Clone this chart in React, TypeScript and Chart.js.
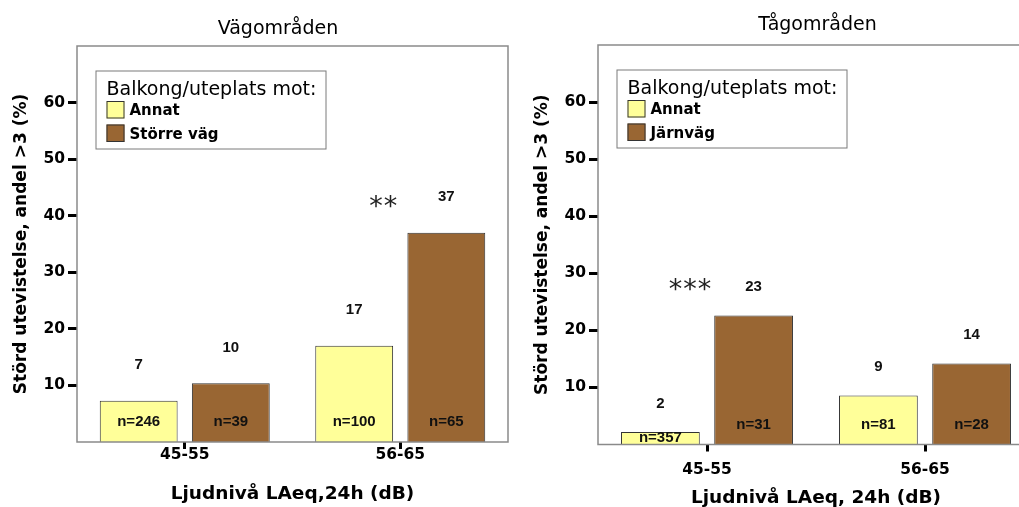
import React, { useEffect, useRef } from "react";
import { Chart, registerables } from "chart.js";

Chart.register(...registerables);

// ---------------- data ----------------
const categories = ["45-55", "56-65"];
const yTicks = [10, 20, 30, 40, 50, 60];
const yMax = 70;
const yTitle = "Störd utevistelse, andel >3 (%)";
const legendTitle = "Balkong/uteplats mot:";

const roadTitle = "Vägområden";
const roadXTitle = "Ljudnivå LAeq,24h (dB)";
const roadSeriesNames = ["Annat", "Större väg"];
const roadAnnat = [7.3, 17.0];
const roadStorreVag = [10.4, 37.0];
const roadAnnatN = [246, 100];
const roadStorreVagN = [39, 65];
const roadStars = ["", "**"];

const railTitle = "Tågområden";
const railXTitle = "Ljudnivå LAeq, 24h (dB)";
const railSeriesNames = ["Annat", "Järnväg"];
const railAnnat = [2.2, 8.6];
const railJarnvag = [22.6, 14.2];
const railAnnatN = [357, 81];
const railJarnvagN = [31, 28];
const railStars = ["***", ""];

// ---------------- styles ----------------
const FONT_AXIS = '"DejaVu Sans", Verdana, sans-serif';
const FONT_VAL = '"Liberation Sans", Arial, sans-serif';
const YELLOW = "#FFFF99";
const BROWN = "#996633";
const BAR_EDGE = "#333333";
const FRAME = "#8a8a8a";
const CANVAS_H = 507;

const roadLayout = {
  canvasLeft: 0, canvasW: 521, areaLeft: 77, areaRight: 508, areaTop: 46, areaBottom: 442,
  titleDx: -14.5, titleBase: 12.5, valueGap: 35.6, tickPad: -3, xTitlePad: 1.9,
};
const railLayout = {
  canvasLeft: 521, canvasW: 530, areaLeft: 77, areaRight: 513, areaTop: 45, areaBottom: 444.5,
  titleDx: 1.5, titleBase: 15, valueGap: 28.5, tickPad: 9, xTitlePad: -2.6,
};

type Panel = {
  title: string;
  xTitle: string;
  names: string[];
  series: number[][];
  counts: number[][];
  stars: string[];
  layout: typeof roadLayout;
};

const roadPanel: Panel = {
  title: roadTitle, xTitle: roadXTitle, names: roadSeriesNames,
  series: [roadAnnat, roadStorreVag], counts: [roadAnnatN, roadStorreVagN],
  stars: roadStars, layout: roadLayout,
};
const railPanel: Panel = {
  title: railTitle, xTitle: railXTitle, names: railSeriesNames,
  series: [railAnnat, railJarnvag], counts: [railAnnatN, railJarnvagN],
  stars: railStars, layout: railLayout,
};

const fills = [YELLOW, BROWN];

function makeChart(canvas: HTMLCanvasElement, p: Panel) {
  const L = p.layout;
  const overlay = {
    id: "overlay",
    afterDatasetsDraw(chart: any) {
      const ctx: CanvasRenderingContext2D = chart.ctx;
      const a = chart.chartArea;
      ctx.save();
      // frame
      ctx.strokeStyle = FRAME;
      ctx.lineWidth = 1.5;
      ctx.strokeRect(a.left, a.top, a.right - a.left, a.bottom - a.top);

      // value and n labels
      ctx.fillStyle = "#111";
      ctx.textAlign = "center";
      ctx.textBaseline = "middle";
      ctx.font = `bold 15px ${FONT_VAL}`;
      chart.data.datasets.forEach((ds: any, di: number) => {
        chart.getDatasetMeta(di).data.forEach((bar: any, i: number) => {
          const v = ds.data[i] as number;
          const pr = bar.getProps(["x", "y", "base"], true);
          ctx.fillText(String(Math.round(v)), pr.x, pr.y - L.valueGap);
          ctx.fillText(`n=${p.counts[di][i]}`, pr.x, Math.max(a.bottom - 20, (pr.y + pr.base) / 2));
        });
      });

      // significance stars
      ctx.font = `27px ${FONT_AXIS}`;
      ctx.textBaseline = "alphabetic";
      ctx.fillStyle = "#222";
      categories.forEach((_c, i) => {
        const s = p.stars[i];
        if (!s) return;
        const tops = chart.data.datasets.map((_d: any, di: number) => chart.getDatasetMeta(di).data[i].y);
        const top = Math.min(...tops);
        const cx = chart.scales.x.getPixelForValue(i) - 17;
        const cy = top - 33;
        const n = s.length;
        for (let k = 0; k < n; k++) {
          ctx.fillText(s[k], cx + (k - (n - 1) / 2) * 14.5, cy + 15.8);
        }
      });

      // legend
      const bx = a.left + 18.5, by = a.top + 24.5, bw = 230, bh = 78;
      ctx.fillStyle = "#fff";
      ctx.fillRect(bx, by, bw, bh);
      ctx.strokeStyle = "#7a7a7a";
      ctx.lineWidth = 1;
      ctx.strokeRect(bx + 0.5, by + 0.5, bw, bh);
      ctx.fillStyle = "#000";
      ctx.textAlign = "left";
      ctx.font = `19px ${FONT_AXIS}`;
      ctx.fillText(legendTitle, bx + 11, by + 24);
      ctx.font = `bold 15px ${FONT_AXIS}`;
      p.names.forEach((name, i) => {
        const sy = by + 30.5 + i * 23.5;
        ctx.fillStyle = fills[i];
        ctx.fillRect(bx + 11, sy, 18, 17.5);
        ctx.strokeStyle = BAR_EDGE;
        ctx.strokeRect(bx + 11.5, sy + 0.5, 17, 16.5);
        ctx.fillStyle = "#000";
        ctx.fillText(name, bx + 34, sy + 14.2);
      });

      // title
      ctx.font = `19px ${FONT_AXIS}`;
      ctx.textAlign = "center";
      ctx.fillText(p.title, (a.left + a.right) / 2 + L.titleDx, a.top - L.titleBase);
      ctx.restore();
    },
  };

  return new Chart(canvas, {
    type: "bar",
    data: {
      labels: categories,
      datasets: p.series.map((s, i) => ({
        label: p.names[i],
        data: s,
        backgroundColor: fills[i],
        borderColor: BAR_EDGE,
        borderWidth: 1,
        categoryPercentage: 0.855,
        barPercentage: 0.845,
      })),
    },
    options: {
      responsive: false,
      animation: false,
      events: [],
      layout: {
        padding: { top: L.areaTop, left: 0, right: L.canvasW - L.areaRight, bottom: 0 },
      },
      plugins: {
        legend: { display: false },
        title: { display: false },
        tooltip: { enabled: false },
      },
      scales: {
        x: {
          type: "category",
          offset: true,
          grid: {
            offset: false, drawOnChartArea: false, drawTicks: true,
            tickLength: 7, tickWidth: 3, tickColor: "#000",
          },
          border: { display: false },
          ticks: {
            font: { family: FONT_AXIS, size: 15.5, weight: "bold" }, color: "#000",
            padding: L.tickPad, maxRotation: 0, autoSkip: false,
          },
          title: {
            display: true, text: p.xTitle, color: "#000",
            font: { family: FONT_AXIS, size: 18.5, weight: "bold" },
            padding: { top: 0, bottom: L.xTitlePad },
          },
          afterFit: (s: any) => { s.height = CANVAS_H - L.areaBottom; },
        },
        y: {
          min: 0,
          max: yMax,
          afterBuildTicks: (s: any) => { s.ticks = yTicks.map((v) => ({ value: v })); },
          afterFit: (s: any) => { s.width = L.areaLeft; },
          grid: {
            drawOnChartArea: false, drawTicks: true,
            tickLength: 9, tickWidth: 3, tickColor: "#000",
          },
          border: { display: false },
          ticks: { font: { family: FONT_AXIS, size: 15.5, weight: "bold" }, color: "#000", padding: 3 },
          title: {
            display: true, text: yTitle, color: "#000",
            font: { family: FONT_AXIS, size: 17, weight: "bold" },
            padding: { top: 11, bottom: 0 },
          },
        },
      },
    },
    plugins: [overlay],
  } as any);
}

export default function App() {
  const leftRef = useRef<HTMLCanvasElement>(null);
  const rightRef = useRef<HTMLCanvasElement>(null);

  useEffect(() => {
    const c1 = makeChart(leftRef.current!, roadPanel);
    const c2 = makeChart(rightRef.current!, railPanel);
    return () => {
      c1.destroy();
      c2.destroy();
    };
  }, []);

  return (
    <div
      style={{
        position: "fixed", left: 0, top: 0, width: 1019, height: CANVAS_H,
        overflow: "hidden", background: "#fff",
      }}
    >
      <canvas
        ref={leftRef}
        width={roadLayout.canvasW}
        height={CANVAS_H}
        style={{ position: "absolute", left: roadLayout.canvasLeft, top: 0 }}
      />
      <canvas
        ref={rightRef}
        width={railLayout.canvasW}
        height={CANVAS_H}
        style={{ position: "absolute", left: railLayout.canvasLeft, top: 0 }}
      />
    </div>
  );
}
